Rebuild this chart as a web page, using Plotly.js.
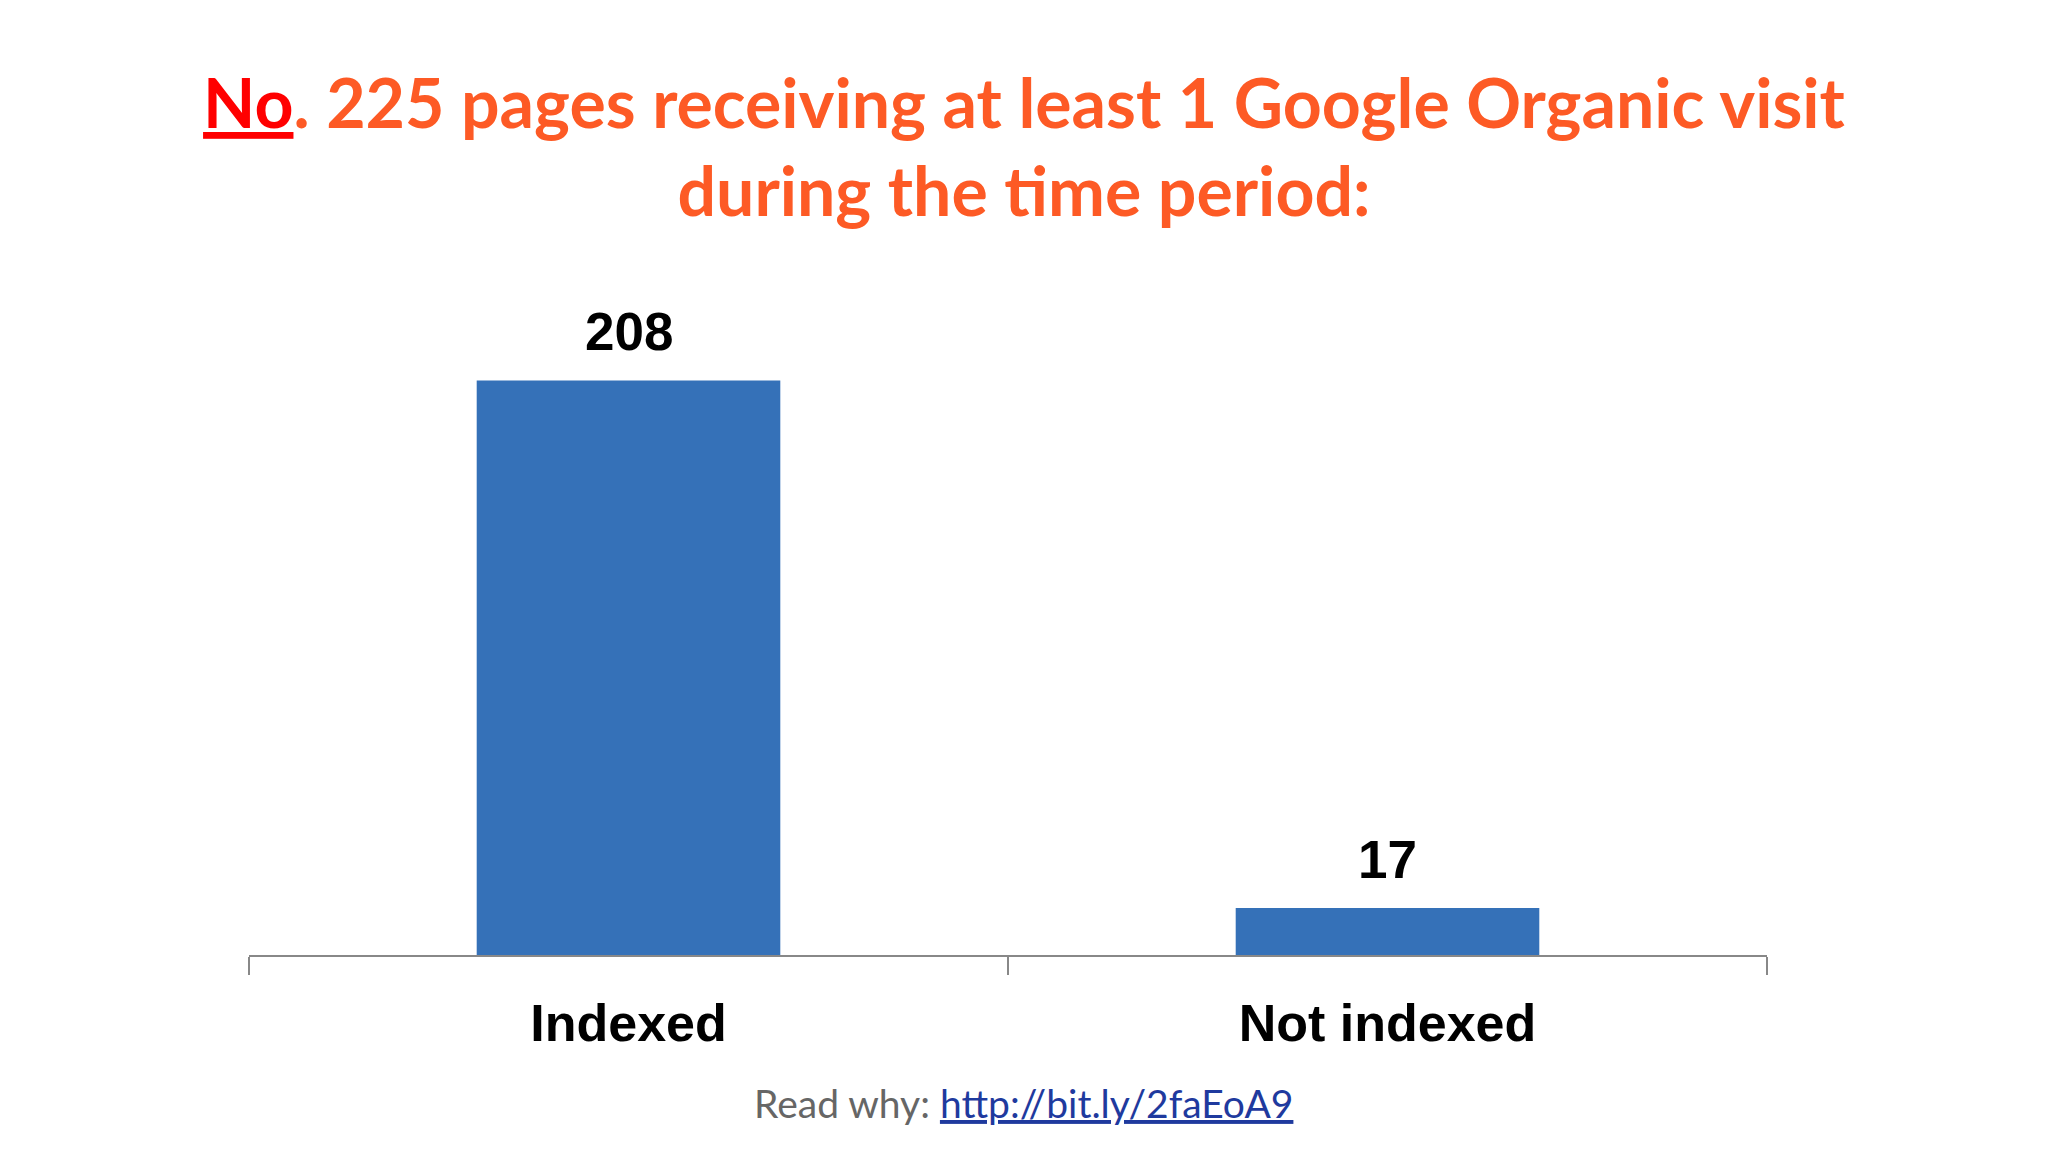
<!DOCTYPE html>
<html>
<head>
<meta charset="utf-8">
<script src="https://cdn.plot.ly/plotly-3.0.1.min.js"></script>
<style>
html,body{margin:0;padding:0;background:#ffffff;}
#chart{width:2048px;height:1152px;}
</style>
</head>
<body>
<div id="chart"></div>
<script>
const categories = ["Indexed", "Not indexed"];
const pageCounts = [208, 17];
const valueLabels = ["208", "17"];
const titleText = '<span style="color:#ff0000"><u>No</u></span>. 225 pages receiving at least 1 Google Organic visit<br>during the time period:';
const footerLead = "Read why: ";
const footerLink = "http://bit.ly/2faEoA9";

const trace = {
  type: "bar",
  x: categories,
  y: pageCounts,
  marker: {color: "#3571b8", line: {width: 0}},
  hoverinfo: "skip"
};

const annotations = categories.map((c, i) => ({
  x: c, y: pageCounts[i], xref: "x", yref: "y",
  text: valueLabels[i], showarrow: false,
  yanchor: "bottom", yshift: 17,
  font: {family: "Liberation Sans, Arial, sans-serif", size: 53, color: "#000000", weight: 700}
}));

annotations.push({
  xref: "paper", yref: "paper", x: 0.5105, y: -0.223, xanchor: "center", yanchor: "middle",
  showarrow: false,
  text: '<span style="color:#666666">' + footerLead + '</span><span style="color:#1f3a9e"><u>' + footerLink + '</u></span>',
  font: {family: "Lato, sans-serif", size: 39}
});

const layout = {
  width: 2048, height: 1152,
  paper_bgcolor: "#ffffff", plot_bgcolor: "#ffffff",
  margin: {l: 249, r: 281, t: 292, b: 197},
  showlegend: false,
  bargap: 0.6,
  title: {
    text: titleText,
    x: 0.5, xref: "container", xanchor: "center",
    y: 1 - 128/1152, yref: "container", yanchor: "top",
    font: {family: "Lato, sans-serif", size: 68, color: "#fd5a25", weight: 700}
  },
  xaxis: {
    type: "category",
    showline: true, linecolor: "#888888", linewidth: 2,
    ticks: "outside", tickson: "boundaries", ticklen: 18, tickcolor: "#888888", tickwidth: 2,
    ticklabelstandoff: 22,
    tickfont: {family: "Liberation Sans, Arial, sans-serif", size: 52, color: "#000000", weight: 700},
    showgrid: false, zeroline: false, fixedrange: true
  },
  yaxis: {
    range: [0, 240], visible: false, showgrid: false, zeroline: false, fixedrange: true
  },
  annotations: annotations
};

Plotly.newPlot("chart", [trace], layout, {displayModeBar: false, staticPlot: true});
</script>
</body>
</html>
